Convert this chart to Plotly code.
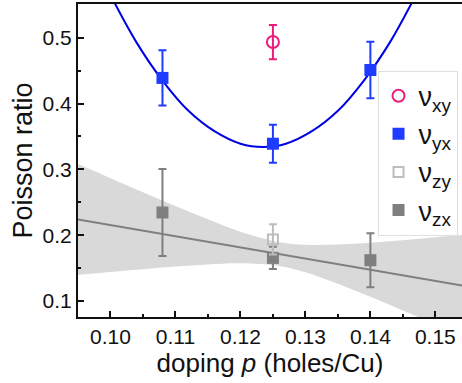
import plotly.graph_objects as go

# ---------------- data ----------------
p_xy = [0.125]
nu_xy = [0.4935]
nu_xy_err = [0.026]

p_yx = [0.108, 0.125, 0.140]
nu_yx = [0.439, 0.339, 0.451]
nu_yx_err = [0.042, 0.029, 0.043]

p_zy = [0.125]
nu_zy = [0.1935]
nu_zy_err = [0.023]

p_zx = [0.108, 0.125, 0.140]
nu_zx = [0.2345, 0.1655, 0.162]
nu_zx_err = [0.066, 0.017, 0.041]

# blue parabola (fit of nu_yx)
p_fit_yx = [0.100, 0.104, 0.108, 0.112, 0.116, 0.120, 0.1235, 0.127, 0.131, 0.135, 0.139, 0.143, 0.147]
fit_yx = [0.565, 0.493, 0.435, 0.389, 0.358, 0.339, 0.334, 0.339, 0.358, 0.389, 0.435, 0.493, 0.565]

# grey linear fit of nu_zx and its confidence band
p_fit_zx = [0.095, 0.155]
fit_zx = [0.2239, 0.1221]
p_band = [0.095, 0.100, 0.105, 0.110, 0.115, 0.120, 0.126, 0.130, 0.135, 0.140, 0.145, 0.150, 0.155]
band_hi = [0.3080, 0.2866, 0.2654, 0.2445, 0.2242, 0.2054, 0.1893, 0.1854, 0.1859, 0.1887, 0.1925, 0.1967, 0.2010]
band_lo = [0.1398, 0.1442, 0.1484, 0.1523, 0.1556, 0.1574, 0.1533, 0.1436, 0.1261, 0.1063, 0.0855, 0.0645, 0.0432]

x_ticks = [0.10, 0.11, 0.12, 0.13, 0.14, 0.15]
y_ticks = [0.1, 0.2, 0.3, 0.4, 0.5]

FONT = "Liberation Sans, Arial, sans-serif"
MAGENTA = "#EC1C7E"
BLUE_MK = "#1F3BFF"
BLUE_LN = "#0000E6"
GREY = "#7F7F7F"
LGREY = "#BDBDBD"

fig = go.Figure()

# confidence band
fig.add_trace(go.Scatter(x=p_band, y=band_lo, mode="lines", line=dict(width=0, color="#D9D9D9", shape="spline"),
                         showlegend=False, hoverinfo="skip"))
fig.add_trace(go.Scatter(x=p_band, y=band_hi, mode="lines", fill="tonexty", fillcolor="#D9D9D9",
                         line=dict(width=0, color="#D9D9D9", shape="spline"), showlegend=False, hoverinfo="skip"))
# grey fit line
fig.add_trace(go.Scatter(x=p_fit_zx, y=fit_zx, mode="lines", line=dict(color=GREY, width=2),
                         showlegend=False, hoverinfo="skip"))
# blue parabola
fig.add_trace(go.Scatter(x=p_fit_yx, y=fit_yx, mode="lines", line=dict(color=BLUE_LN, width=2, shape="spline"),
                         showlegend=False, hoverinfo="skip"))

# nu_zx
fig.add_trace(go.Scatter(x=p_zx, y=nu_zx, mode="markers", name="ν<sub>zx</sub>", legendrank=4,
                         marker=dict(symbol="square", size=12, color=GREY),
                         error_y=dict(type="data", array=nu_zx_err, color=GREY, thickness=2, width=4)))
# nu_zy
fig.add_trace(go.Scatter(x=p_zy, y=nu_zy, mode="markers", name="ν<sub>zy</sub>", legendrank=3,
                         marker=dict(symbol="square-open", size=10, color=LGREY, line=dict(width=2, color=LGREY)),
                         error_y=dict(type="data", array=nu_zy_err, color=LGREY, thickness=2, width=4)))
# nu_yx
fig.add_trace(go.Scatter(x=p_yx, y=nu_yx, mode="markers", name="ν<sub>yx</sub>", legendrank=2,
                         marker=dict(symbol="square", size=12, color=BLUE_MK),
                         error_y=dict(type="data", array=nu_yx_err, color=BLUE_MK, thickness=2, width=4)))
# nu_xy
fig.add_trace(go.Scatter(x=p_xy, y=nu_xy, mode="markers", name="ν<sub>xy</sub>", legendrank=1,
                         marker=dict(symbol="circle-open", size=12, color=MAGENTA, line=dict(width=2, color=MAGENTA)),
                         error_y=dict(type="data", array=nu_xy_err, color=MAGENTA, thickness=2, width=4)))

for i, tr in enumerate(fig.data):
    tr.legendgroup = "g%d" % i

fig.update_layout(
    width=462, height=383,
    margin=dict(l=78, r=0, t=4, b=66),
    paper_bgcolor="white", plot_bgcolor="white",
    font=dict(family=FONT, color="#111", size=21),
    showlegend=True,
    legend=dict(x=0.78, y=0.787, xanchor="left", yanchor="top",
                bgcolor="white", bordercolor="#E0E0E0", borderwidth=1,
                font=dict(family=FONT, size=27, color="#111"),
                tracegroupgap=1, traceorder="normal"),
    xaxis=dict(range=[0.0950, 0.1541], tickvals=x_ticks, ticktext=["%.2f" % v for v in x_ticks],
               ticks="inside", ticklen=6, tickwidth=2, tickcolor="#111",
               showline=True, linecolor="#111", linewidth=2, mirror=True,
               showgrid=False, zeroline=False,
               minor=dict(dtick=0.005, tick0=0.1, ticks="inside", ticklen=3, tickwidth=2, tickcolor="#111", showgrid=False),
               tickfont=dict(size=21),
               title=dict(text="doping <i>p</i> (holes/Cu)", font=dict(size=26), standoff=2)),
    yaxis=dict(range=[0.0757, 0.5513], tickvals=y_ticks, ticktext=["%.1f" % v for v in y_ticks],
               ticks="inside", ticklen=6, tickwidth=2, tickcolor="#111",
               showline=True, linecolor="#111", linewidth=2, mirror=False,
               showgrid=False, zeroline=False,
               minor=dict(dtick=0.05, tick0=0.1, ticks="inside", ticklen=3, tickwidth=2, tickcolor="#111", showgrid=False),
               tickfont=dict(size=21),
               title=dict(text="Poisson ratio", font=dict(size=27), standoff=2)),
)

fig.write_html("out.html")
